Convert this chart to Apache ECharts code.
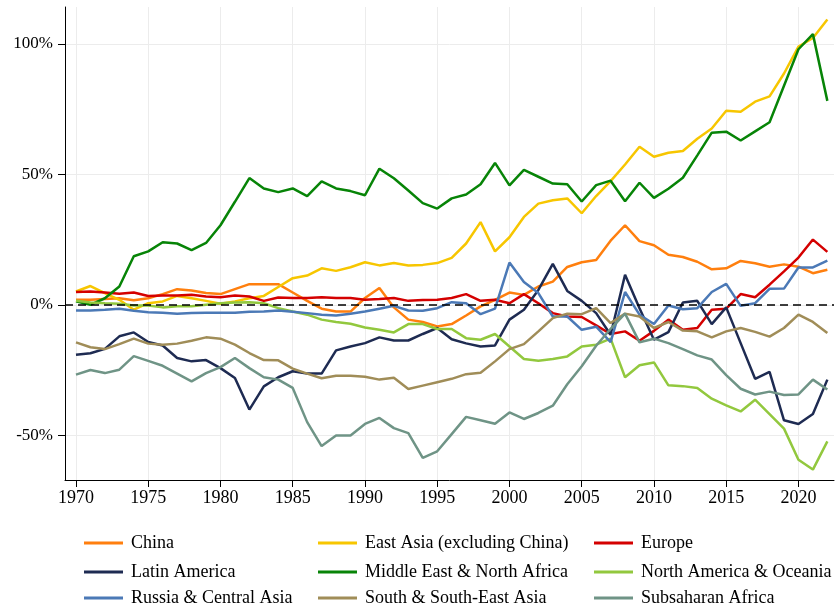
<!DOCTYPE html>
<html>
<head>
<meta charset="utf-8">
<script src="https://cdn.jsdelivr.net/npm/echarts@6/dist/echarts.min.js"></script>
<style>
  html, body { margin: 0; padding: 0; background: #fff; }
  #chart { width: 839px; height: 604px; }
</style>
</head>
<body>
<div id="chart"></div>
<script>
// years on the x axis
const years = [1970, 1971, 1972, 1973, 1974, 1975, 1976, 1977, 1978, 1979,
  1980, 1981, 1982, 1983, 1984, 1985, 1986, 1987, 1988, 1989,
  1990, 1991, 1992, 1993, 1994, 1995, 1996, 1997, 1998, 1999,
  2000, 2001, 2002, 2003, 2004, 2005, 2006, 2007, 2008, 2009,
  2010, 2011, 2012, 2013, 2014, 2015, 2016, 2017, 2018, 2019,
  2020, 2021, 2022]

const xTicks = [1970, 1975, 1980, 1985, 1990, 1995, 2000, 2005, 2010, 2015, 2020]
const yTicks = [-50, 0, 50, 100]

// values in %
const china = [1.9, 1.9, 2.2, 2.5, 1.7, 2.5, 4.1, 6.0, 5.5, 4.5,
  4.1, 6.0, 7.9, 7.9, 7.9, 4.7, 1.5, -1.5, -2.6, -2.6,
  2.6, 6.4, -1.0, -5.7, -6.6, -8.3, -7.4, -4.1, -0.6, 1.9,
  4.7, 3.8, 7.0, 8.9, 14.5, 16.3, 17.2, 24.6, 30.5, 24.4,
  22.8, 19.2, 18.3, 16.5, 13.6, 14.0, 16.8, 15.9, 14.6, 15.5,
  14.6, 12.1, 13.4]
const eastAsia = [5.1, 7.2, 4.5, 1.9, -1.9, 0.6, 1.3, 3.4, 2.5, 1.5,
  0.4, 1.3, 2.5, 3.4, 6.8, 10.2, 11.2, 14.0, 13.0, 14.4,
  16.3, 15.1, 16.0, 15.1, 15.3, 16.0, 18.0, 23.5, 31.7, 20.5,
  25.9, 33.7, 38.8, 40.1, 40.8, 35.1, 41.7, 47.4, 53.8, 60.6,
  56.8, 58.3, 59.0, 63.7, 67.6, 74.4, 74.0, 77.9, 79.9, 88.7,
  99.0, 102.3, 109.4]
const europe = [4.9, 5.1, 4.7, 4.2, 4.7, 3.4, 3.6, 3.6, 3.8, 3.2,
  2.9, 3.6, 3.2, 1.5, 2.8, 2.6, 2.6, 2.9, 2.6, 2.6,
  1.9, 2.2, 2.6, 1.5, 1.8, 1.9, 2.6, 4.1, 1.5, 1.9,
  0.6, 4.1, 0.6, -3.2, -4.5, -4.7, -7.9, -11.2, -10.2, -13.8,
  -10.0, -5.7, -9.6, -8.9, -1.9, -1.5, 4.1, 2.9, 7.7, 12.8,
  18.1, 25.0, 20.3]
const latinAmerica = [-19.2, -18.6, -16.9, -12.1, -10.6, -14.3, -15.6, -20.4, -21.7, -21.2,
  -24.3, -28.1, -40.2, -31.3, -27.8, -25.5, -26.4, -26.4, -17.5, -16.0,
  -14.7, -12.5, -13.7, -13.7, -11.2, -8.9, -13.2, -14.8, -16.0, -15.6,
  -5.7, -1.9, 5.7, 15.7, 5.3, 1.5, -3.2, -11.5, 11.5, -1.3,
  -13.4, -10.5, 0.9, 1.5, -7.4, -1.0, -14.7, -28.4, -25.7, -44.3,
  -45.7, -41.9, -28.7]
const middleEast = [1.3, 0.0, 2.5, 7.0, 18.6, 20.5, 24.0, 23.5, 21.0, 23.7,
  30.5, 39.5, 48.6, 44.6, 43.2, 44.6, 41.7, 47.3, 44.6, 43.6,
  42.0, 52.2, 48.5, 43.8, 39.0, 36.9, 40.8, 42.3, 46.2, 54.4,
  45.8, 51.7, 49.1, 46.5, 46.2, 39.6, 45.9, 47.6, 39.7, 46.8,
  41.0, 44.5, 48.7, 57.3, 66.0, 66.4, 63.0, 66.5, 70.0, 84.0,
  98.0, 103.8, 78.2]
const northAmerica = [1.5, 0.9, 0.6, 0.4, -0.3, -0.3, -1.0, -0.6, -0.6, 0.0,
  0.6, 0.9, 1.0, 0.6, -1.3, -2.6, -3.8, -5.7, -6.6, -7.3,
  -8.7, -9.6, -10.6, -7.4, -7.4, -9.3, -9.3, -12.8, -13.4, -11.2,
  -16.0, -20.8, -21.5, -20.8, -19.8, -16.0, -15.3, -13.0, -27.8, -23.2,
  -22.1, -30.9, -31.2, -31.9, -36.0, -38.6, -40.9, -36.4, -41.9, -47.5,
  -59.4, -63.2, -52.4]
const russia = [-2.2, -2.2, -1.9, -1.5, -2.3, -2.9, -3.1, -3.4, -3.2, -3.1,
  -3.1, -3.1, -2.7, -2.6, -2.2, -2.7, -3.2, -3.8, -4.1, -3.4,
  -2.6, -1.5, -0.4, -2.2, -2.3, -1.3, 1.0, 0.6, -3.6, -1.5,
  16.2, 8.7, 4.5, -4.5, -4.5, -9.6, -8.4, -14.3, 4.9, -3.8,
  -7.4, -0.3, -1.7, -1.3, 4.9, 8.0, -0.4, 0.6, 6.1, 6.2,
  14.3, 14.3, 16.9]
const southAsia = [-14.4, -16.3, -17.0, -15.1, -13.0, -14.9, -15.3, -14.9, -13.8, -12.5,
  -13.0, -15.3, -18.5, -21.2, -21.3, -24.5, -26.4, -28.2, -27.2, -27.2,
  -27.6, -28.7, -28.0, -32.3, -31.0, -29.7, -28.4, -26.6, -26.1, -21.7,
  -17.0, -15.1, -10.2, -5.1, -3.4, -3.6, -1.3, -7.0, -3.4, -4.5,
  -8.9, -6.6, -9.9, -10.2, -12.5, -10.2, -8.9, -10.4, -12.2, -8.9,
  -3.8, -6.6, -10.8]
const subsaharan = [-26.8, -25.0, -26.2, -24.9, -19.7, -21.5, -23.4, -26.4, -29.4, -26.2,
  -23.9, -20.4, -24.3, -27.8, -28.7, -31.9, -45.0, -54.2, -50.1, -50.1,
  -45.7, -43.4, -47.3, -49.2, -58.7, -56.2, -49.6, -43.0, -44.3, -45.6,
  -41.3, -43.8, -41.5, -38.7, -30.5, -23.6, -15.7, -9.2, -3.4, -14.4,
  -13.0, -14.7, -17.0, -19.4, -21.0, -27.0, -32.2, -34.4, -33.3, -34.6,
  -34.4, -28.7, -32.5]

const seriesDefs = [
  { name: 'China', data: china, color: '#ff7f0e' },
  { name: 'East Asia (excluding China)', data: eastAsia, color: '#f7c600' },
  { name: 'Europe', data: europe, color: '#d40000' },
  { name: 'Latin America', data: latinAmerica, color: '#1e2b52' },
  { name: 'Middle East & North Africa', data: middleEast, color: '#078407' },
  { name: 'North America & Oceania', data: northAmerica, color: '#92c83e' },
  { name: 'Russia & Central Asia', data: russia, color: '#4b79b6' },
  { name: 'South & South-East Asia', data: southAsia, color: '#a08d58' },
  { name: 'Subsaharan Africa', data: subsaharan, color: '#6f9486' }
]

const FONT = '"Liberation Serif", "Times New Roman", serif'

const chart = echarts.init(document.getElementById('chart'))

const series = seriesDefs.map((s, i) => {
  const item = {
    name: s.name,
    type: 'line',
    showSymbol: false,
    symbol: 'none',
    data: years.map((y, k) => [y, s.data[k]]),
    lineStyle: { color: s.color, width: 2.5 },
    itemStyle: { color: s.color },
    emphasis: { disabled: true }
  }
  if (i === 0) {
    item.markLine = {
      silent: true,
      symbol: 'none',
      label: { show: false },
      lineStyle: { color: '#000', type: [8, 5], width: 1.5 },
      data: [{ yAxis: 0 }]
    }
  }
  return item
})

// 3 x 3 legend grid, one legend per item so the columns line up
const legendCols = [79, 313, 589]
const legendRows = [528, 557, 583]
const legends = seriesDefs.map((s, i) => ({
  data: [s.name],
  left: legendCols[i % 3],
  top: legendRows[Math.floor(i / 3)],
  icon: 'rect',
  itemWidth: 39,
  itemHeight: 3,
  textStyle: { fontFamily: FONT, fontSize: 18, color: '#000', lineHeight: 20, padding: [0, 0, 0, 3] }
}))

chart.setOption({
  animation: false,
  backgroundColor: '#fff',
  grid: { left: 65, right: 5, top: 7, bottom: 124, containLabel: false },
  legend: legends,
  xAxis: {
    type: 'value',
    min: 1969.24,
    max: 2022.46,
    axisLine: { show: true, onZero: false, lineStyle: { color: '#000', width: 1 } },
    axisTick: { show: true, length: 7, customValues: xTicks, lineStyle: { color: '#000' } },
    axisLabel: {
      customValues: xTicks,
      fontFamily: FONT, fontSize: 18, color: '#000', margin: 9,
      formatter: v => String(v)
    },
    splitLine: { show: true, lineStyle: { color: '#ececec', width: 1 } }
  },
  yAxis: {
    type: 'value',
    min: -67.2,
    max: 114.2,
    axisLine: { show: true, onZero: false, lineStyle: { color: '#000', width: 1 } },
    axisTick: { show: true, length: 7, customValues: yTicks, lineStyle: { color: '#000' } },
    axisLabel: {
      customValues: yTicks,
      fontFamily: FONT, fontSize: 17, color: '#000', margin: 12,
      formatter: v => v + '%'
    },
    splitLine: { show: true, lineStyle: { color: '#ececec', width: 1 } }
  },
  series: series
})
</script>
</body>
</html>
